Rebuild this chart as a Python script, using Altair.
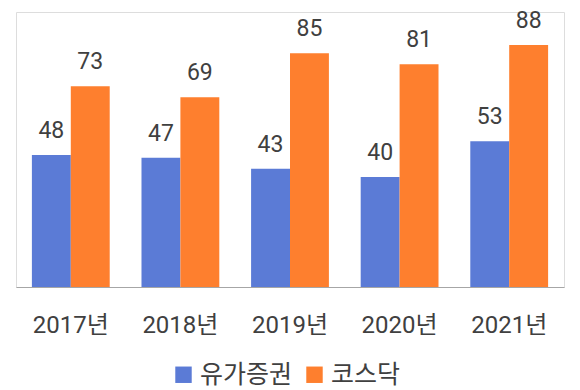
import altair as alt
import pandas as pd

years = ["2017년", "2018년", "2019년", "2020년", "2021년"]
series = ["유가증권", "코스닥"]
kospi = [48, 47, 43, 40, 53]
kosdaq = [73, 69, 85, 81, 88]
colors = ["#5B7BD6", "#FE7F2E"]

rows = []
for i, y in enumerate(years):
    rows.append({"year": y, "series": series[0], "value": kospi[i]})
    rows.append({"year": y, "series": series[1], "value": kosdaq[i]})
df = pd.DataFrame(rows)

FONT = "Roboto, Noto Sans CJK KR"

x = alt.X("year:N", sort=years, title=None,
          scale=alt.Scale(paddingInner=0.29, paddingOuter=0.145),
          axis=alt.Axis(labelAngle=0, ticks=False, domainColor="#a6a6a6", domainWidth=1.2,
                        labelFontSize=24, labelFont=FONT, labelColor="#404040",
                        labelPadding=26, grid=False))
xo = alt.XOffset("series:N", sort=series, scale=alt.Scale(paddingInner=0, paddingOuter=0))
y = alt.Y("value:Q", scale=alt.Scale(domain=[0, 100], nice=False), axis=None)

bars = alt.Chart(df).mark_bar(opacity=1).encode(
    x=x, xOffset=xo, y=y,
    color=alt.Color("series:N", sort=series,
                    scale=alt.Scale(domain=series, range=colors),
                    legend=alt.Legend(title=None, orient="none", direction="horizontal",
                                      legendX=155, legendY=350,
                                      symbolType="square", symbolSize=270,
                                      symbolStrokeWidth=0, labelFont="Noto Sans CJK KR",
                                      labelFontSize=25, labelColor="#404040",
                                      labelOffset=4, columnPadding=9)),
)

labels = alt.Chart(df).mark_text(dy=-17, baseline="alphabetic", font=FONT,
                                 fontSize=23, color="#404040").encode(
    x=x, xOffset=xo, y=y, text=alt.Text("value:Q")
)

chart = alt.layer(bars, labels).properties(
    width=548, height=275,
    autosize=alt.AutoSizeParams(type="none"),
    padding={"left": 8, "top": 4, "right": 8, "bottom": 103},
).configure_view(stroke=None).configure(background="white")

chart.save("out.html", embed_options={"renderer": "svg", "actions": False})
